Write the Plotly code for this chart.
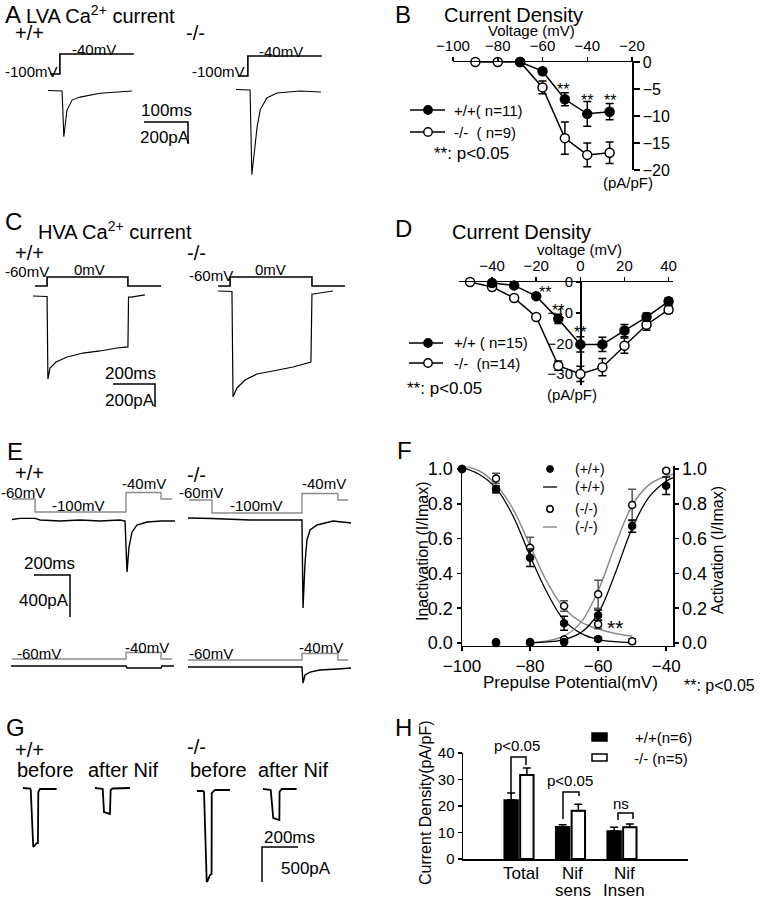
import plotly.graph_objects as go

W, H = 760, 899
FONT = "Liberation Sans, Arial, Helvetica, sans-serif"
GRAY = "#8c8c8c"

# ================= DATA =================
# Panel A: LVA Ca2+ current (time ms / current pA / voltage mV)
A_WT_T = [0, 32, 36, 43, 55, 73, 118, 191]
A_WT_I = [0, -5, -420, -180, -85, -60, -25, -5]
A_KO_T = [0, 32, 36, 48, 55, 70, 93, 145, 193]
A_KO_I = [0, -5, -775, -340, -185, -77, -32, -14, -23]
A_WT_PROT_T = [5, 27, 195]
A_KO_PROT_T = [4, 27, 195]
A_PROT_MV = [-100, -40, -40]
A_SCALE_T = [-100, 0, 0]      # 100 ms
A_SCALE_I = [0, 0, -200]      # 200 pA

# Panel B: LVA current density (mV, pA/pF)
B_V_WT = [-70, -60, -50, -40, -30]
B_WT = [0, -1.7, -6.9, -9.6, -9.2]
B_WT_ERR = [0.2, 0.4, 1.2, 2.3, 1.5]
B_V_KO = [-90, -80, -70, -60, -50, -40, -30]
B_KO = [0, 0, 0, -4.7, -14.1, -17.2, -16.8]
B_KO_ERR = [0.2, 0.2, 0.3, 1.2, 3.0, 2.2, 2.0]
B_XTICKS = [-100, -80, -60, -40, -20]
B_YTICKS = [0, -5, -10, -15, -20]

# Panel C: HVA Ca2+ current
C_WT_T = [0, 57, 67, 71, 81, 110, 162, 238, 319, 400, 452, 455, 467, 533]
C_WT_I = [0, 0, -4, -722, -626, -574, -530, -496, -478, -452, -443, -9, -9, 9]
C_KO_T = [10, 67, 76, 81, 100, 138, 195, 295, 367, 452, 457, 462, 557]
C_KO_I = [0, 0, -4, -920, -843, -774, -722, -687, -661, -617, -26, -26, 0]
C_WT_PROT_T = [10, 67, 452, 610]
C_KO_PROT_T = [10, 67, 457, 614]
C_PROT_MV = [-60, 0, -60, -60]
C_SCALE_T = [-200, 0, 0]      # 200 ms
C_SCALE_I = [0, 0, -200]      # 200 pA

# Panel D: HVA current density
D_V_WT = [-40, -30, -20, -10, 0, 10, 20, 30, 40]
D_WT = [-0.3, -1.1, -4.6, -12.0, -20.3, -20.3, -15.8, -11.4, -6.3]
D_WT_ERR = [0.3, 0.4, 0.8, 1.5, 2.5, 2.3, 2.0, 1.3, 1.2]
D_V_KO = [-50, -40, -30, -20, -10, 0, 10, 20, 30, 40]
D_KO = [0, -1.6, -5.2, -11.4, -27.2, -29.9, -27.7, -20.7, -13.9, -9.0]
D_KO_ERR = [0.2, 0.4, 0.5, 0.6, 1.5, 2.5, 2.8, 2.5, 1.8, 1.2]
D_XTICKS = [-40, -20, 0, 20, 40]
D_YTICKS = [0, -10, -20, -30]

# Panel E: inactivation protocol traces
E_TOP_WT_T = [0, 44, 128, 156, 267, 378, 489, 600, 628, 639, 650, 667, 694, 750, 828, 906]
E_TOP_WT_I = [5, 15, 15, 0, -10, 0, -10, 0, -10, -495, -257, -114, -48, -19, -10, -10]
E_TOP_KO_T = [0, 133, 344, 633, 639, 650, 661, 678, 717, 806, 906]
E_TOP_KO_I = [14, 10, -5, -5, -843, -414, -195, -100, -52, -14, -33]
E_TOP_WT_PROT_T = [0, 128, 633, 828, 889]
E_TOP_KO_PROT_T = [5, 133, 633, 833, 889]
E_TOP_PROT_MV = [-60, -100, -40, -60, -60]
E_BOT_WT_T = [-5, 633, 639, 828, 833, 900]
E_BOT_WT_I = [0, 0, -19, -19, 0, 0]
E_BOT_KO_T = [0, 633, 639, 650, 678, 733, 833, 906]
E_BOT_KO_I = [0, 0, -152, -76, -48, -29, -19, -10]
E_BOT_WT_PROT_T = [0, 633, 828, 889]
E_BOT_KO_PROT_T = [0, 633, 833, 889]
E_BOT_PROT_MV = [-60, -40, -60, -60]
E_SCALE_T = [-200, 0, 0]      # 200 ms
E_SCALE_I = [0, 0, -400]      # 400 pA

# Panel F: steady-state inactivation / activation
F_INACT_V_WT = [-100, -90, -80, -70, -60]
F_INACT_WT = [1.0, 0.883, 0.49, 0.113, 0.023]
F_INACT_WT_ERR = [0.0, 0.02, 0.05, 0.04, 0.01]
F_INACT_V_KO = [-100, -90, -80, -70, -60, -50]
F_INACT_KO = [1.0, 0.946, 0.548, 0.213, 0.107, 0.01]
F_INACT_KO_ERR = [0.0, 0.03, 0.06, 0.03, 0.025, 0.015]
F_ACT_V = [-90, -80, -70, -60, -50, -40]
F_ACT_WT = [0.0, 0.0, 0.005, 0.16, 0.672, 0.904]
F_ACT_WT_ERR = [0.0, 0.0, 0.005, 0.03, 0.035, 0.05]
F_ACT_KO = [0.005, 0.005, 0.02, 0.28, 0.793, 0.99]
F_ACT_KO_ERR = [0.0, 0.0, 0.01, 0.08, 0.09, 0.01]
F_FIT_INACT_V = [-100, -95, -90, -85, -80, -75, -70, -65, -60, -55, -50]
F_FIT_INACT_WT = [1.01, 0.97, 0.89, 0.73, 0.50, 0.29, 0.13, 0.055, 0.02, 0.008, 0.003]
F_FIT_INACT_KO = [1.02, 0.99, 0.91, 0.77, 0.56, 0.35, 0.20, 0.12, 0.08, 0.055, 0.04]
F_FIT_ACT_V = [-80, -75, -70, -65, -60, -55, -50, -45, -40, -38]
F_FIT_ACT_WT = [0.0, 0.006, 0.02, 0.06, 0.17, 0.40, 0.66, 0.84, 0.93, 0.95]
F_FIT_ACT_KO = [0.004, 0.012, 0.04, 0.12, 0.30, 0.56, 0.79, 0.91, 0.96, 0.97]
F_XTICKS = [-100, -80, -60, -40]
F_YTICKS = [0.0, 0.2, 0.4, 0.6, 0.8, 1.0]

# Panel G: nifedipine traces
G_WT_BEFORE_T = [0, 39, 43, 57, 67, 76, 83, 85, 94, 187]
G_WT_BEFORE_I = [7, 0, -21, -836, -807, -779, -779, -50, -7, -7]
G_WT_AFTER_T = [0, 43, 50, 67, 83, 87, 98, 194]
G_WT_AFTER_I = [0, -14, -343, -357, -371, -29, -7, 0]
G_KO_BEFORE_T = [0, 33, 39, 54, 61, 72, 81, 82, 100, 183]
G_KO_BEFORE_I = [0, 0, -14, -1300, -1271, -1200, -1186, -29, 14, 14]
G_KO_AFTER_T = [0, 43, 57, 72, 91, 92, 104, 187]
G_KO_AFTER_I = [0, -14, -414, -429, -443, -39, 0, 0]
G_SCALE_T = [200, 0, 0]       # 200 ms
G_SCALE_I = [0, 0, -500]      # 500 pA

# Panel H: current density bars
H_CATS = ["Total", "Nif\nsens", "Nif\nInsen"]
H_WT = [22.3, 12.2, 10.6]
H_WT_ERR = [2.6, 0.7, 1.4]
H_KO = [31.7, 18.2, 12.0]
H_KO_ERR = [2.6, 2.5, 1.2]
H_YTICKS = [0, 10, 20, 30, 40]

# ================= FIGURE =================
fig = go.Figure()
AX = {}
count = {"x": 0, "y": 0}


def new_axis(kind, **kw):
    count[kind] += 1
    n = count[kind]
    suf = "" if n == 1 else str(n)
    kw.setdefault("automargin", False)
    AX[kind + "axis" + suf] = kw
    return kind + suf


def akey(ref):
    return ref[0] + "axis" + ref[1:]


def hidden_x(origin, scale):
    return new_axis("x", domain=[0, 1], range=[-origin / scale, (W - origin) / scale],
                    visible=False, fixedrange=True)


def hidden_y(origin, scale):
    return new_axis("y", domain=[0, 1], range=[(origin - H) / scale, origin / scale],
                    visible=False, fixedrange=True)


def rec_group(x0, sx, y0, sy, v0=None, sv=None):
    xr = hidden_x(x0, sx)
    yi = hidden_y(y0, sy)
    yv = hidden_y(v0, sv) if v0 is not None else None
    return xr, yi, yv


def line(xr, yr, x, y, color="black", width=1.3, shape="linear"):
    fig.add_trace(go.Scatter(x=x, y=y, xaxis=xr, yaxis=yr, mode="lines",
                             line=dict(color=color, width=width, shape=shape),
                             hoverinfo="skip", showlegend=False))


def points(xr, yr, x, y, err, filled, size=9, mode="lines+markers", ecolor="black",
           mcolor="black", lw=1.5):
    fig.add_trace(go.Scatter(
        x=x, y=y, xaxis=xr, yaxis=yr, mode=mode,
        line=dict(color="black", width=1.5),
        marker=dict(symbol="circle", size=size, color=mcolor if filled else "white",
                    line=dict(color=mcolor, width=lw)),
        error_y=dict(type="data", array=err, color=ecolor, thickness=1.5, width=4),
        hoverinfo="skip", showlegend=False, cliponaxis=False))


ANN = []
SHP = []


def txt(x, y, s, size=15, anchor="left", angle=0, color="black"):
    ANN.append(dict(x=x / W, y=1 - y / H, xref="paper", yref="paper", text=s, showarrow=False,
                    xanchor=anchor, yanchor="middle", textangle=angle,
                    font=dict(family=FONT, size=size, color=color)))


def pline(x0, x1, y, color="black", width=1.5):
    SHP.append(dict(type="line", xref="paper", yref="paper", x0=x0 / W, x1=x1 / W,
                    y0=1 - y / H, y1=1 - y / H, line=dict(color=color, width=width)))


def pcircle(x, y, r, fill, lw=1.4):
    SHP.append(dict(type="circle", xref="paper", yref="paper", x0=(x - r) / W, x1=(x + r) / W,
                    y0=1 - (y + r) / H, y1=1 - (y - r) / H, fillcolor=fill,
                    line=dict(color="black", width=lw)))


def prect(x0, y0, x1, y1, fill):
    SHP.append(dict(type="rect", xref="paper", yref="paper", x0=x0 / W, x1=x1 / W,
                    y0=1 - y1 / H, y1=1 - y0 / H, fillcolor=fill,
                    line=dict(color="black", width=1.5)))


def ppath(pts, width=1.5):
    d = "M " + " L ".join(f"{x / W},{1 - y / H}" for x, y in pts)
    SHP.append(dict(type="path", xref="paper", yref="paper", path=d,
                    line=dict(color="black", width=width)))


AXSTYLE = dict(showline=True, linecolor="black", linewidth=1.5, ticks="outside", ticklen=4,
               tickwidth=1.5, tickcolor="black", showgrid=False, zeroline=False,
               fixedrange=True)

# ---------------- Panel A ----------------
xa1, ya1, va1 = rec_group(48, 0.44, 90.5, 0.11, 40.7, 1 / 3)
xa2, ya2, va2 = rec_group(236, 0.44, 89.5, 0.11, 42.7, 1 / 3)
xas, yas, _ = rec_group(188, 0.44, 122, 0.11)
line(xa1, va1, A_WT_PROT_T, A_PROT_MV, width=1.6, shape="hv")
line(xa2, va2, A_KO_PROT_T, A_PROT_MV, width=1.6, shape="hv")
line(xa1, ya1, A_WT_T, A_WT_I, width=1.1)
line(xa2, ya2, A_KO_T, A_KO_I, width=1.1)
line(xas, yas, A_SCALE_T, A_SCALE_I, width=1.5)
txt(3, 14, "A", 24)
txt(24, 14, "LVA Ca<sup>2+</sup> current", 20)
txt(13, 33, "+/+", 20)
txt(184, 33, "-/-", 20)
txt(70, 49, "-40mV", 15)
txt(3, 72, "-100mV", 15)
txt(257, 51, "-40mV", 15)
txt(190, 72, "-100mV", 15)
txt(139, 111, "100ms", 17)
txt(138, 137, "200pA", 17)

# ---------------- Panel C ----------------
xc1, yc1, vc1 = rec_group(33, 0.21, 296, 0.115, 277, 0.15)
xc2, yc2, vc2 = rec_group(216, 0.21, 291, 0.115, 277, 0.15)
xcs, ycs, _ = rec_group(155, 0.21, 384, 0.115)
line(xc1, vc1, C_WT_PROT_T, C_PROT_MV, width=1.6, shape="hv")
line(xc2, vc2, C_KO_PROT_T, C_PROT_MV, width=1.6, shape="hv")
line(xc1, yc1, C_WT_T, C_WT_I, width=1.2)
line(xc2, yc2, C_KO_T, C_KO_I, width=1.2)
line(xcs, ycs, C_SCALE_T, C_SCALE_I, width=1.5)
txt(3, 221, "C", 24)
txt(36, 230, "HVA Ca<sup>2+</sup> current", 20)
txt(13, 253, "+/+", 20)
txt(185, 253, "-/-", 20)
txt(3, 271, "-60mV", 15)
txt(72, 269, "0mV", 15)
txt(187, 275, "-60mV", 15)
txt(253, 269, "0mV", 15)
txt(103, 373, "200ms", 17)
txt(103, 400, "200pA", 17)

# ---------------- Panel E ----------------
xe1, ye1, ve1 = rec_group(12, 0.18, 520, 0.105, 479.5, 0.325)
xe2, ye2, ve2 = rec_group(188, 0.18, 519.5, 0.105, 480.5, 0.325)
xe3, ye3, ve3 = rec_group(12, 0.18, 666, 0.105, 639.5, 0.325)
xe4, ye4, ve4 = rec_group(188, 0.18, 667, 0.105, 640.5, 0.325)
xes, yes_, _ = rec_group(70, 0.18, 575, 0.105)
line(xe1, ve1, E_TOP_WT_PROT_T, E_TOP_PROT_MV, color=GRAY, width=1.4, shape="hv")
line(xe2, ve2, E_TOP_KO_PROT_T, E_TOP_PROT_MV, color=GRAY, width=1.4, shape="hv")
line(xe3, ve3, E_BOT_WT_PROT_T, E_BOT_PROT_MV, color=GRAY, width=1.4, shape="hv")
line(xe4, ve4, E_BOT_KO_PROT_T, E_BOT_PROT_MV, color=GRAY, width=1.4, shape="hv")
line(xe1, ye1, E_TOP_WT_T, E_TOP_WT_I, width=1.4)
line(xe2, ye2, E_TOP_KO_T, E_TOP_KO_I, width=1.4)
line(xe3, ye3, E_BOT_WT_T, E_BOT_WT_I, width=1.4)
line(xe4, ye4, E_BOT_KO_T, E_BOT_KO_I, width=1.4)
line(xes, yes_, E_SCALE_T, E_SCALE_I, width=1.5)
txt(5, 452, "E", 24)
txt(13, 473, "+/+", 20)
txt(185, 475, "-/-", 20)
txt(-1, 492, "-60mV", 15)
txt(50, 505, "-100mV", 15)
txt(120, 484, "-40mV", 15)
txt(177, 492, "-60mV", 15)
txt(228, 505, "-100mV", 15)
txt(300, 483, "-40mV", 15)
txt(22, 563, "200ms", 17)
txt(17, 600, "400pA", 17)
txt(15, 653, "-60mV", 15)
txt(123, 647, "-40mV", 15)
txt(187, 653, "-60mV", 15)
txt(297, 647, "-40mV", 15)

# ---------------- Panel G ----------------
xg1, yg1, _ = rec_group(23, 0.18, 788.5, 0.07)
xg2, yg2, _ = rec_group(95, 0.18, 788, 0.07)
xg3, yg3, _ = rec_group(197, 0.18, 791, 0.07)
xg4, yg4, _ = rec_group(263, 0.18, 789, 0.07)
xgs, ygs, _ = rec_group(262, 0.18, 847, 0.07)
line(xg1, yg1, G_WT_BEFORE_T, G_WT_BEFORE_I, width=1.8)
line(xg2, yg2, G_WT_AFTER_T, G_WT_AFTER_I, width=1.8)
line(xg3, yg3, G_KO_BEFORE_T, G_KO_BEFORE_I, width=1.8)
line(xg4, yg4, G_KO_AFTER_T, G_KO_AFTER_I, width=1.8)
line(xgs, ygs, G_SCALE_T, G_SCALE_I, width=1.5)
txt(4, 727, "G", 24)
txt(13, 750, "+/+", 20)
txt(15, 770, "before", 20)
txt(86, 770, "after Nif", 20)
txt(185, 747, "-/-", 20)
txt(188, 770, "before", 20)
txt(256, 770, "after Nif", 20)
txt(262, 837, "200ms", 17)
txt(279, 868, "500pA", 17)

# ---------------- Panel B ----------------
yB = new_axis("y", domain=[1 - 170 / H, 1 - 62 / H], range=[-20, 0], side="right",
              tickvals=B_YTICKS, tickfont=dict(family=FONT, size=16, color="black"), **AXSTYLE)
xB = new_axis("x", domain=[453 / W, 632 / W], range=[-100, -20], side="top",
              tickvals=B_XTICKS, tickfont=dict(family=FONT, size=15, color="black"), **AXSTYLE)
AX[akey(yB)]["anchor"] = xB
AX[akey(xB)]["anchor"] = yB
AX[akey(yB)]["ticklen"] = 6
points(xB, yB, B_V_KO, B_KO, B_KO_ERR, filled=False)
points(xB, yB, B_V_WT, B_WT, B_WT_ERR, filled=True)
txt(393, 14, "B", 24)
txt(442, 15, "Current Density", 20)
txt(531, 31, "Voltage (mV)", 15, anchor="center")
txt(628, 182, "(pA/pF)", 15, anchor="center")
for (ax_, ay_) in [(563, 89), (587, 100), (610, 100)]:
    txt(ax_, ay_, "**", 16, anchor="center")
pline(410, 445, 110)
pcircle(428, 110, 4.2, "black")
txt(452, 110, "+/+( n=11)", 15)
pline(410, 445, 132)
pcircle(428, 132, 4.2, "white")
txt(452, 132, "-/-\u00a0\u00a0( n=9)", 15)
txt(432, 154, "**: p&lt;0.05", 17)

# ---------------- Panel D ----------------
yD = new_axis("y", domain=[1 - 385 / H, 1 - 282 / H], range=[-33.5, 0], side="left",
              anchor="free", position=580 / W, tickvals=D_YTICKS,
              tickfont=dict(family=FONT, size=15, color="black"), **AXSTYLE)
xD = new_axis("x", domain=[459 / W, 673 / W], range=[-55, 42], side="top", anchor=yD,
              tickvals=D_XTICKS, tickfont=dict(family=FONT, size=15, color="black"), **AXSTYLE)
AX[akey(yD)]["layer"] = "below traces"
points(xD, yD, D_V_KO, D_KO, D_KO_ERR, filled=False)
points(xD, yD, D_V_WT, D_WT, D_WT_ERR, filled=True)
txt(393, 229, "D", 24)
txt(450, 232, "Current Density", 20)
txt(579, 250, "voltage (mV)", 15, anchor="center")
txt(572, 394, "(pA/pF)", 15, anchor="center")
for (ax_, ay_) in [(545, 292), (558, 310), (580, 332)]:
    txt(ax_, ay_, "**", 16, anchor="center")
pline(409, 443, 343)
pcircle(428, 343, 4.2, "black")
txt(452, 343, "+/+ ( n=15)", 15)
pline(409, 443, 363)
pcircle(428, 363, 4.2, "white")
txt(452, 363, "-/-\u00a0\u00a0(n=14)", 15)
txt(405, 388, "**: p&lt;0.05", 17)

# ---------------- Panel F ----------------
yF = new_axis("y", domain=[1 - 645.6 / H, 1 - 466.4 / H], range=[-0.015, 1.015], side="left",
              tickvals=F_YTICKS, tickformat=".1f",
              tickfont=dict(family=FONT, size=18, color="black"), **AXSTYLE)
xF = new_axis("x", domain=[462 / W, 673 / W], range=[-100, -38], tickvals=F_XTICKS,
              tickfont=dict(family=FONT, size=17, color="black"), **AXSTYLE)
yF2 = new_axis("y", domain=[1 - 645.6 / H, 1 - 466.4 / H], range=[-0.015, 1.015],
               side="right", overlaying=yF, tickvals=F_YTICKS, tickformat=".1f",
               tickfont=dict(family=FONT, size=18, color="black"), **AXSTYLE)
AX[akey(yF)]["anchor"] = xF
AX[akey(yF2)]["anchor"] = xF
AX[akey(xF)]["anchor"] = yF
line(xF, yF, F_FIT_INACT_V, F_FIT_INACT_KO, color=GRAY, width=1.5, shape="spline")
line(xF, yF, F_FIT_INACT_V, F_FIT_INACT_WT, color="black", width=1.3, shape="spline")
line(xF, yF2, F_FIT_ACT_V, F_FIT_ACT_KO, color=GRAY, width=1.5, shape="spline")
line(xF, yF2, F_FIT_ACT_V, F_FIT_ACT_WT, color="black", width=1.3, shape="spline")
points(xF, yF, F_INACT_V_KO, F_INACT_KO, F_INACT_KO_ERR, filled=False, size=7,
       mode="markers", ecolor="#555555", lw=1.5)
points(xF, yF, F_INACT_V_WT, F_INACT_WT, F_INACT_WT_ERR, filled=True, size=7, mode="markers")
points(xF, yF2, F_ACT_V, F_ACT_KO, F_ACT_KO_ERR, filled=False, size=7, mode="markers",
       ecolor="#555555", lw=1.5)
points(xF, yF2, F_ACT_V, F_ACT_WT, F_ACT_WT_ERR, filled=True, size=7, mode="markers")
txt(395, 450, "F", 24)
pcircle(550, 469, 3.4, "black", lw=1)
txt(573, 469, "(+/+)", 14)
pline(543, 557, 487, "black", 1.3)
txt(573, 487, "(+/+)", 14)
pcircle(550, 509, 3.2, "white", lw=1.5)
txt(573, 509, "(-/-)", 14)
pline(543, 557, 527, GRAY, 1.5)
txt(573, 527, "(-/-)", 14)
txt(422, 551, "Inactivation (I/Imax)", 16, anchor="center", angle=-90)
txt(717, 550, "Activation (I/Imax)", 16, anchor="center", angle=-90)
txt(570, 682, "Prepulse Potential(mV)", 17, anchor="center")
txt(682, 685, "**: p&lt;0.05", 16)
txt(615, 627, "**", 21, anchor="center")

# ---------------- Panel H ----------------
yH = new_axis("y", domain=[1 - 859 / H, 1 - 753 / H], range=[0, 40], tickvals=H_YTICKS,
              tickfont=dict(family=FONT, size=15, color="black"), **AXSTYLE)
xH = new_axis("x", domain=[463 / W, 688 / W], range=[-1.13, 3.24], tickvals=[0, 1, 2],
              showticklabels=False, **{**AXSTYLE, "ticks": ""})
AX[akey(yH)]["anchor"] = xH
AX[akey(xH)]["anchor"] = yH
cat_idx = list(range(len(H_CATS)))
fig.add_trace(go.Bar(x=cat_idx, y=H_WT, xaxis=xH, yaxis=yH, width=0.27, offset=-0.33,
                     marker=dict(color="black", line=dict(color="black", width=1.5)),
                     error_y=dict(type="data", array=H_WT_ERR, arrayminus=[0] * 3,
                                  symmetric=False, color="black", thickness=1.5, width=4),
                     hoverinfo="skip", showlegend=False))
fig.add_trace(go.Bar(x=cat_idx, y=H_KO, xaxis=xH, yaxis=yH, width=0.26, offset=-0.02,
                     marker=dict(color="white", line=dict(color="black", width=2)),
                     error_y=dict(type="data", array=H_KO_ERR, arrayminus=[0] * 3,
                                  symmetric=False, color="black", thickness=1.5, width=4),
                     hoverinfo="skip", showlegend=False))
for i, cat in enumerate(H_CATS):
    for j, part in enumerate(cat.split("\n")):
        ANN.append(dict(x=i, xref=xH, y=1 - (873 + 17 * j) / H, yref="paper", text=part,
                        showarrow=False, xanchor="center", yanchor="middle",
                        font=dict(family=FONT, size=17, color="black")))
txt(393, 727, "H", 24)
txt(425, 803, "Current Density(pA/pF)", 16, anchor="center", angle=-90)
prect(592, 733, 607, 741, "black")
txt(633, 737, "+/+(n=6)", 15)
prect(592, 754, 607, 761, "white")
txt(632, 758, "-/- (n=5)", 15)
ppath([(511, 795), (511, 757), (526, 757), (526, 765)])
ppath([(563, 819), (563, 792), (579, 792), (579, 796)])
ppath([(618, 820), (618, 813), (633, 813), (633, 819)])
txt(517, 745, "p&lt;0.05", 15, anchor="center")
txt(570, 780, "p&lt;0.05", 15, anchor="center")
txt(621, 803, "ns", 15, anchor="center")

fig.update_layout(
    width=W, height=H, margin=dict(l=0, r=0, t=0, b=0, pad=0, autoexpand=False),
    paper_bgcolor="white", plot_bgcolor="rgba(0,0,0,0)",
    showlegend=False, barmode="overlay",
    font=dict(family=FONT, size=15, color="black"),
    annotations=ANN, shapes=SHP, **AX)

fig.write_html("out.html",
               config={"displayModeBar": False, "staticPlot": True},
               post_script="document.body.style.margin='0px';"
                           "document.body.style.overflow='hidden';")
